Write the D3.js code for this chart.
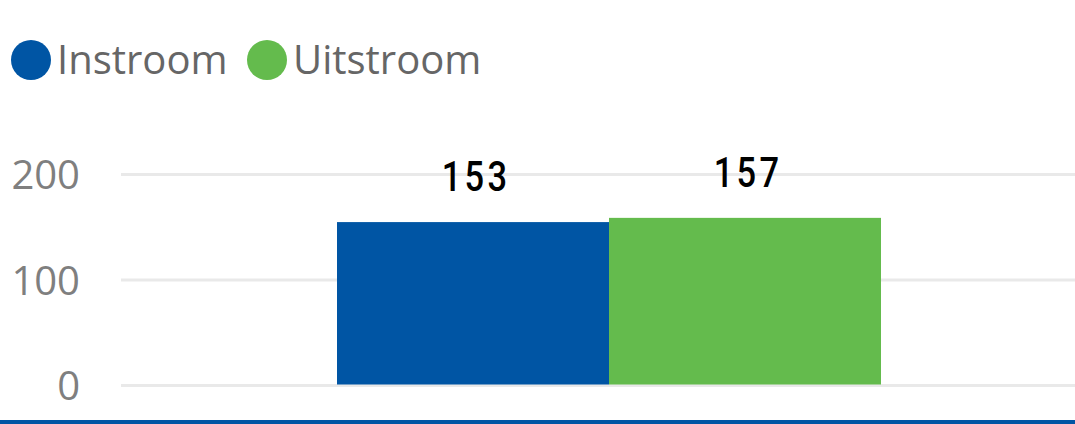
<!DOCTYPE html>
<html lang="nl">
<head>
  <meta charset="utf-8">
  <title>Instroom / Uitstroom</title>
  <script src="https://d3js.org/d3.v7.min.js"></script>
  <style>
    body { margin: 0; background: #fff; }
    .legend text { font: 40px "Open Sans", "Noto Sans", sans-serif; fill: #666; }
    .tick text { font: 40px "Open Sans", "Noto Sans", sans-serif; fill: #7f7f7f; }
    .waarde { font: 500 42px "Roboto", sans-serif; fill: #000; letter-spacing: 4px; }
  </style>
</head>
<body>
  <svg width="1075" height="424"></svg>
  <script>
    // data
    var reeksen = ["Instroom", "Uitstroom"];
    var waarden = [153, 157];
    var kleuren = ["#0055a4", "#64bb4d"];
    var yTicks = [0, 100, 200];

    var svg = d3.select("svg"),
      width = +svg.attr("width"),
      height = +svg.attr("height");

    var y = d3.scaleLinear().domain([0, 200]).range([385.5, 174.5]);
    var x = d3.scaleBand().domain(reeksen).range([337, 881]).padding(0);

    // rasterlijnen
    svg.append("g").selectAll("line")
      .data(yTicks)
      .enter().append("line")
        .attr("x1", 121).attr("x2", width)
        .attr("y1", d => y(d)).attr("y2", d => y(d))
        .attr("stroke", "#e9e9e9")
        .attr("stroke-width", 3);

    // as labels
    var as = svg.append("g").attr("transform", "translate(80,0)")
      .call(d3.axisLeft(y).tickValues(yTicks).tickSize(0).tickPadding(0));
    as.select(".domain").remove();
    as.selectAll(".tick text").attr("dy", "0.36em");

    // staven
    svg.append("g").selectAll("rect")
      .data(waarden)
      .enter().append("rect")
        .attr("x", (d, i) => x(reeksen[i]))
        .attr("width", x.bandwidth())
        .attr("y", d => y(d) - 2)
        .attr("height", d => y(0) - y(d) + 1)
        .attr("fill", (d, i) => kleuren[i]);

    // waarde labels (smal lettertype nagebootst met scaleX)
    svg.append("g").selectAll("text")
      .data(waarden)
      .enter().append("text")
        .attr("class", "waarde")
        .attr("transform", (d, i) => "translate(" + (x(reeksen[i]) + x.bandwidth() / 2 + 3) + "," + (y(d) - 33) + ") scale(0.82,1)")
        .attr("text-anchor", "middle")
        .text(d => d);

    // legenda
    var legenda = svg.append("g").attr("class", "legend");
    var posities = [31, 267];
    var item = legenda.selectAll("g")
      .data(reeksen)
      .enter().append("g")
        .attr("transform", (d, i) => "translate(" + posities[i] + ",60)");
    item.append("circle").attr("r", 20).attr("fill", (d, i) => kleuren[i]);
    item.append("text").attr("x", 26).attr("dy", "0.36em").text(d => d);

    // onderrand
    svg.append("rect")
      .attr("x", 0).attr("y", height - 4)
      .attr("width", width).attr("height", 4)
      .attr("fill", "#0055a4");
  </script>
</body>
</html>
